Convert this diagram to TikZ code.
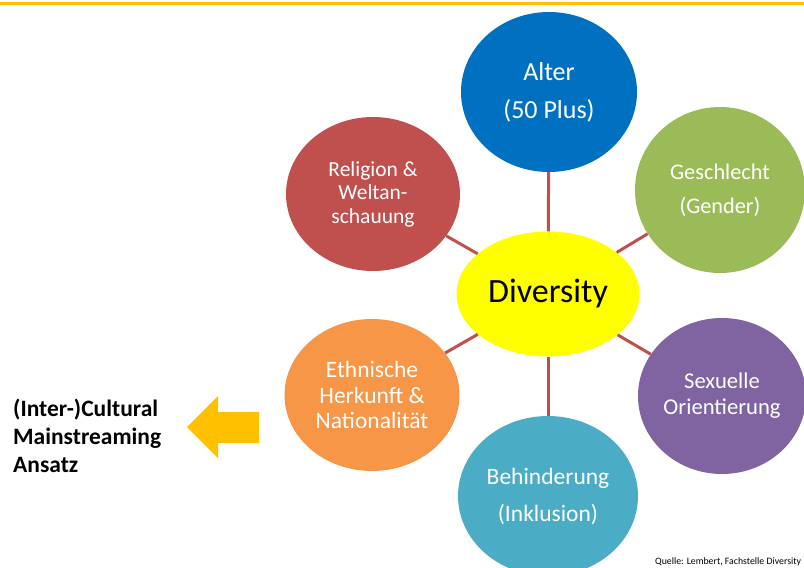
\documentclass[tikz,border=0pt]{standalone}
\usepackage{fontspec}
\setmainfont{Carlito}
\usetikzlibrary{shapes.geometric}
\definecolor{accent}{HTML}{FFC000}
\definecolor{cblue}{HTML}{0070C0}
\definecolor{cgreen}{HTML}{9BBB59}
\definecolor{cred}{HTML}{C0504D}
\definecolor{corange}{HTML}{F79646}
\definecolor{cpurple}{HTML}{8064A2}
\definecolor{cteal}{HTML}{4BACC6}
\definecolor{cyellow}{HTML}{FFFF00}
\tikzset{
  bubble/.style={ellipse, draw=none, text=white, align=center, inner sep=0pt},
  link/.style={draw=cred, line width=3pt},
}
\begin{document}
\begin{tikzpicture}[x=1pt, y=-1pt]
  \useasboundingbox (0,0) rectangle (804,568);
  \clip (0,0) rectangle (804,568);
  % top rule
  \fill[accent] (0,1.5) rectangle (804,4.5);

  % centre and surrounding bubbles
  \node[bubble, fill=cyellow, text=black, minimum width=183pt, minimum height=125pt,
        font=\fontsize{34}{40}\selectfont] (div) at (548,294) {Diversity};
  \node[bubble, fill=cblue, minimum width=176pt, minimum height=160pt,
        font=\fontsize{26}{38}\selectfont] (alter) at (549,92) {Alter\\(50 Plus)};
  \node[bubble, fill=cgreen, minimum width=170pt, minimum height=166pt,
        font=\fontsize{22.3}{34}\selectfont] (gesch) at (720,190) {Geschlecht\\(Gender)};
  \node[bubble, fill=cred, minimum width=174pt, minimum height=154pt,
        font=\fontsize{21.5}{23.5}\selectfont] (relig) at (373,194) {Religion \&\\Weltan-\\schauung};
  \node[bubble, fill=corange, minimum width=175pt, minimum height=152pt,
        font=\fontsize{23.5}{25.5}\selectfont] (ethn) at (372,395) {Ethnische\\Herkunft \&\\Nationalität};
  \node[bubble, fill=cpurple, minimum width=168pt, minimum height=156pt,
        font=\fontsize{22.6}{26}\selectfont] (sex) at (722,396) {Sexuelle\\Orientierung};
  \node[bubble, fill=cteal, minimum width=180pt, minimum height=160pt,
        font=\fontsize{23.5}{37}\selectfont] (behind) at (548,496) {Behinderung\\(Inklusion)};

  % connectors between the centre and each bubble
  \foreach \n in {alter, gesch, relig, ethn, sex, behind}
    \draw[link] (div) -- (\n);

  % approach label and arrow
  \node[anchor=north west, align=left, inner sep=0pt,
        font=\fontsize{23.5}{28}\selectfont\bfseries] (ansatz) at (13,399)
        {(Inter-)Cultural\\Mainstreaming\\Ansatz};
  \fill[accent] (187,427) -- (218,396) -- (218,412) -- (259,412)
                -- (259,443) -- (218,443) -- (218,458) -- cycle;

  % source note
  \node[anchor=base west, inner sep=0pt, font=\fontsize{9.8}{11}\selectfont] (src)
        at (655,564.5) {Quelle: Lembert, Fachstelle Diversity};
\end{tikzpicture}
\end{document}
